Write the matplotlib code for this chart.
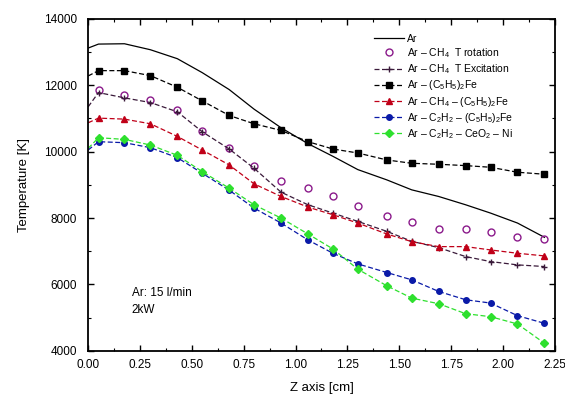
import matplotlib
matplotlib.use('Agg')
import matplotlib.pyplot as plt
from matplotlib.ticker import MultipleLocator

plt.rcParams['font.family'] = ['Liberation Sans', 'DejaVu Sans']
plt.rcParams['mathtext.fontset'] = 'custom'
plt.rcParams['mathtext.rm'] = 'Liberation Sans'

# 读取的数据 (x=0 为曲线起点, 无标记)
z_line = [0.0, 0.05, 0.175, 0.30, 0.43, 0.55, 0.68, 0.80, 0.93, 1.06,
          1.18, 1.30, 1.44, 1.56, 1.69, 1.82, 1.94, 2.07, 2.20]
z_pts = z_line[1:]

t_ar = [13120, 13240, 13250, 13070, 12800, 12380, 11870, 11280, 10720, 10240,
        9860, 9460, 9150, 8850, 8650, 8400, 8150, 7850, 7420]
t_rot = [11860, 11710, 11560, 11260, 10630, 10110, 9580, 9110, 8900,
         8650, 8350, 8050, 7880, 7680, 7680, 7580, 7440, 7370]
t_exc = [11350, 11780, 11620, 11480, 11200, 10600, 10080, 9500, 8780, 8400,
         8150, 7900, 7600, 7300, 7110, 6840, 6690, 6590, 6540]
t_fe = [12280, 12440, 12440, 12290, 11940, 11530, 11090, 10840, 10640, 10300,
        10080, 9960, 9750, 9650, 9620, 9580, 9530, 9380, 9320]
t_ch4_fe = [10870, 11010, 10980, 10840, 10460, 10050, 9600, 9030, 8650, 8330,
            8100, 7850, 7520, 7290, 7140, 7140, 7040, 6940, 6860]
t_c2h2_fe = [10050, 10300, 10270, 10120, 9820, 9350, 8840, 8300, 7850, 7340,
             6940, 6620, 6360, 6140, 5790, 5540, 5440, 5060, 4830]
t_c2h2_ni = [10100, 10420, 10370, 10200, 9890, 9400, 8900, 8400, 8000, 7520,
             7070, 6460, 5960, 5590, 5420, 5120, 5030, 4810, 4230]

labels = ['Ar',
          r'Ar – CH$_4$  T rotation',
          r'Ar – CH$_4$  T Excitation',
          r'Ar – (C$_5$H$_5$)$_2$Fe',
          r'Ar – CH$_4$ – (C$_5$H$_5$)$_2$Fe',
          r'Ar – C$_2$H$_2$ – (C$_5$H$_5$)$_2$Fe',
          r'Ar – C$_2$H$_2$ – CeO$_2$ – Ni']

fig = plt.figure(figsize=(5.65, 4.01), dpi=100)
ax = fig.add_axes([0.156, 0.125, 0.826, 0.828])

mk = slice(1, None)
ax.plot(z_line, t_ar, '-', color='black', lw=0.9, label=labels[0])
ax.plot(z_pts, t_rot, 'o', color='#8b1a8b', mfc='none', ms=5, mew=1.0,
        ls='none', label=labels[1])
ax.plot(z_line, t_exc, '--', color='#3a1a3a', lw=0.9, marker='+', ms=5,
        markevery=mk, dashes=(4, 2), label=labels[2])
ax.plot(z_line, t_fe, '--', color='black', lw=0.9, marker='s', ms=4,
        markevery=mk, dashes=(4, 2), label=labels[3])
ax.plot(z_line, t_ch4_fe, '--', color='#c00018', lw=0.9, marker='^', ms=5,
        markevery=mk, dashes=(4, 2), label=labels[4])
ax.plot(z_line, t_c2h2_fe, '--', color='#0a1aa8', lw=0.9, marker='o', ms=4,
        markevery=mk, dashes=(4, 2), label=labels[5])
ax.plot(z_line, t_c2h2_ni, '--', color='#2ee02e', lw=0.9, marker='D', ms=4,
        markevery=mk, dashes=(4, 2), label=labels[6])

ax.set_xlim(0, 2.25)
ax.set_ylim(4000, 14000)
ax.xaxis.set_major_locator(MultipleLocator(0.25))
ax.xaxis.set_minor_locator(MultipleLocator(0.125))
ax.yaxis.set_major_locator(MultipleLocator(2000))
ax.yaxis.set_minor_locator(MultipleLocator(1000))
ax.xaxis.set_major_formatter(plt.FuncFormatter(lambda v, p: f'{v:.2f}'))
ax.tick_params(which='both', direction='in', top=True, right=True, labelsize=8.5)
ax.tick_params(which='major', length=4, width=1)
ax.tick_params(which='minor', length=2, width=0.8)
ax.tick_params(axis='x', pad=6)
ax.tick_params(axis='y', pad=8)
for s in ax.spines.values():
    s.set_linewidth(1.3)

ax.set_xlabel('Z axis [cm]', fontsize=9.5, labelpad=8)
ax.set_ylabel('Temperature [K]', fontsize=9.5, labelpad=10)

ax.text(0.21, 5480, 'Ar: 15 l/min\n2kW', fontsize=8.5, va='center', linespacing=1.5)

ax.legend(loc='upper left', bbox_to_anchor=(0.612, 0.955), frameon=False,
          fontsize=7.5, handlelength=2.9, handletextpad=0.3,
          labelspacing=0.22, borderaxespad=0, borderpad=0)

fig.savefig('out.png', dpi=100)
